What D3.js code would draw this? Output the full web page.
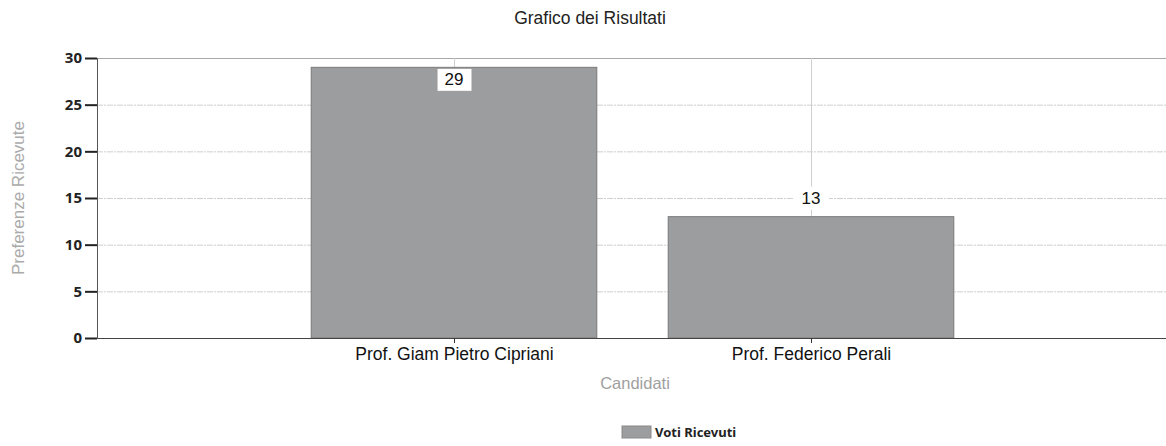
<!DOCTYPE html>
<html>
<head>
<meta charset="utf-8">
<script src="https://cdn.jsdelivr.net/npm/d3@7"></script>
<style>
  body { margin: 0; background: #fff; }
  svg { display: block; }
</style>
</head>
<body>
<div id="chart"></div>
<script>
// dati del grafico
const candidati = ["Prof. Giam Pietro Cipriani", "Prof. Federico Perali"];
const voti = [29, 13];
const yTicks = [0, 5, 10, 15, 20, 25, 30];

const W = 1166, H = 446;
const margin = { top: 58, right: 0, bottom: 108, left: 97 };

const svg = d3.select("#chart").append("svg")
  .attr("width", W)
  .attr("height", H);

const x = d3.scalePoint()
  .domain(candidati)
  .range([margin.left, W - margin.right + 2])
  .padding(1);

const y = d3.scaleLinear()
  .domain([0, 30])
  .range([H - margin.bottom, margin.top]);

const barW = x.step() * 0.8;

// griglia orizzontale
svg.append("g")
  .selectAll("line")
  .data(yTicks.filter(d => d > 0))
  .enter().append("line")
  .attr("x1", margin.left)
  .attr("x2", W)
  .attr("y1", d => y(d) + 0.5)
  .attr("y2", d => y(d) + 0.5)
  .attr("stroke", d => d == 30 ? "#a8a8a8" : "#cfcfcf")
  .attr("stroke-dasharray", d => d == 30 ? null : "6,1,2,1");

// griglia verticale
svg.append("g")
  .selectAll("line")
  .data(candidati)
  .enter().append("line")
  .attr("x1", d => x(d) + 0.5)
  .attr("x2", d => x(d) + 0.5)
  .attr("y1", margin.top)
  .attr("y2", H - margin.bottom)
  .attr("stroke", "#cfcfcf");

// barre
svg.append("g")
  .selectAll("rect")
  .data(voti)
  .enter().append("rect")
  .attr("x", (d, i) => x(candidati[i]) - barW / 2)
  .attr("y", d => y(d))
  .attr("width", barW)
  .attr("height", d => y(0) - y(d))
  .attr("fill", "#9c9d9f")
  .attr("stroke", "#7a7a7a")
  .attr("stroke-width", 1);

// etichette valori
const lab = svg.append("g")
  .selectAll("g")
  .data(voti)
  .enter().append("g")
  .attr("transform", (d, i) => {
    // se non c'è spazio sopra la barra l'etichetta va dentro
    const inside = y(d) - margin.top < 28;
    const cy = inside ? y(d) + 12 : y(d) - 19;
    return "translate(" + x(candidati[i]) + "," + cy + ")";
  });

lab.append("rect")
  .attr("x", -17)
  .attr("y", -11)
  .attr("width", 35)
  .attr("height", 23)
  .attr("fill", "#fff")
  .attr("stroke", (d) => (y(d) - margin.top < 28) ? "#9a9a9a" : "none");

lab.append("text")
  .attr("text-anchor", "middle")
  .attr("dy", "0.36em")
  .attr("font-family", "Liberation Sans, Arial, sans-serif")
  .attr("font-size", 17)
  .attr("fill", "#111")
  .text(d => d);

// asse y
const gy = svg.append("g")
  .attr("transform", "translate(" + margin.left + ",0)")
  .call(d3.axisLeft(y).tickValues(yTicks).tickSize(12).tickPadding(3));

gy.select(".domain").attr("stroke", "#555");
gy.selectAll(".tick line").attr("stroke", "#222").attr("stroke-width", 2);
gy.selectAll(".tick text")
  .attr("font-family", "Noto Sans, sans-serif")
  .attr("font-weight", "bold")
  .attr("font-size", 15)
  .attr("fill", "#222");

// asse x
const gx = svg.append("g")
  .attr("transform", "translate(0," + y(0) + ")")
  .call(d3.axisBottom(x).tickSize(5).tickPadding(5).tickSizeOuter(0));

gx.select(".domain").attr("stroke", "#444");
gx.selectAll(".tick line").attr("stroke", "#333");
gx.selectAll(".tick text")
  .attr("font-family", "Liberation Sans, Arial, sans-serif")
  .attr("font-size", 17.5)
  .attr("fill", "#111");

// titoli
svg.append("text")
  .attr("x", 590)
  .attr("y", 24)
  .attr("text-anchor", "middle")
  .attr("font-family", "Liberation Sans, Arial, sans-serif")
  .attr("font-size", 17.5)
  .attr("fill", "#222")
  .text("Grafico dei Risultati");

svg.append("text")
  .attr("x", 635)
  .attr("y", 389)
  .attr("text-anchor", "middle")
  .attr("font-family", "Liberation Sans, Arial, sans-serif")
  .attr("font-size", 16.5)
  .attr("fill", "#a0a0a0")
  .text("Candidati");

svg.append("text")
  .attr("transform", "translate(24," + y(15) + ") rotate(-90)")
  .attr("text-anchor", "middle")
  .attr("font-family", "Liberation Sans, Arial, sans-serif")
  .attr("font-size", 17)
  .attr("fill", "#aaaaaa")
  .text("Preferenze Ricevute");

// legenda
const leg = svg.append("g").attr("transform", "translate(622,426)");
leg.append("rect")
  .attr("width", 29)
  .attr("height", 12)
  .attr("fill", "#9c9d9f")
  .attr("stroke", "#8a8a8a");
leg.append("text")
  .attr("x", 33)
  .attr("y", 11)
  .attr("font-family", "Noto Sans, sans-serif")
  .attr("font-weight", "bold")
  .attr("font-size", 13)
  .attr("fill", "#222")
  .text("Voti Ricevuti");
</script>
</body>
</html>
